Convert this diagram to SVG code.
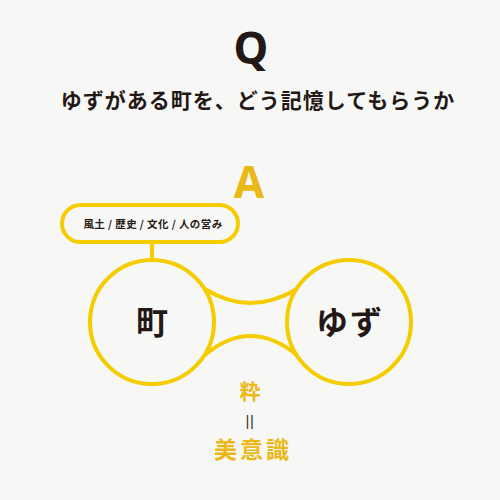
<svg xmlns="http://www.w3.org/2000/svg" width="500" height="500" viewBox="0 0 500 500">
<style>
.ln{fill:none;stroke:#f5cc00;stroke-width:4}
.jp{font-family:"Noto Sans CJK JP","Noto Sans",sans-serif;font-weight:bold}
.dk{fill:#231815}
.gd{fill:#ebb81a}
</style>
<rect width="500" height="500" fill="#f7f8f6"/>
<text class="dk" x="251" y="64" text-anchor="middle" font-family="Noto Sans, sans-serif" font-weight="bold" font-size="44">Q</text>
<text class="jp dk" x="258" y="108" text-anchor="middle" font-size="21" letter-spacing="1">ゆずがある町を、どう記憶してもらうか</text>
<text class="gd" x="249" y="198" text-anchor="middle" font-family="Noto Sans, sans-serif" font-weight="bold" font-size="44">A</text>
<g id="connectors">
<line class="ln" x1="152" y1="242" x2="152" y2="259"/>
<path class="ln" d="M205,289 Q250,317 297,289"/>
<path class="ln" d="M205,355 Q250,317 297,355"/>
</g>
<g id="pill">
<rect class="ln" x="62" y="205" width="176" height="37" rx="18.5" fill="#fff"/>
<text class="jp dk" x="153" y="228" text-anchor="middle" font-size="10.5" font-weight="500" letter-spacing="0.4">風土 / 歴史 / 文化 / 人の営み</text>
</g>
<g id="machi">
<circle class="ln" cx="152" cy="322" r="62" fill="#fff"/>
<text class="jp dk" x="152" y="334" text-anchor="middle" font-size="32">町</text>
</g>
<g id="yuzu">
<circle class="ln" cx="349" cy="322" r="62" fill="#fff"/>
<text class="jp dk" x="350" y="334" text-anchor="middle" font-size="32" letter-spacing="2">ゆず</text>
</g>
<text class="jp gd" x="250" y="399" text-anchor="middle" font-size="21">粋</text>
<text x="250" y="426" text-anchor="middle" font-family="Liberation Sans, sans-serif" font-size="15" letter-spacing="0.5" fill="#333">||</text>
<text class="jp gd" x="253" y="458" text-anchor="middle" font-size="23" letter-spacing="3">美意識</text>
</svg>
